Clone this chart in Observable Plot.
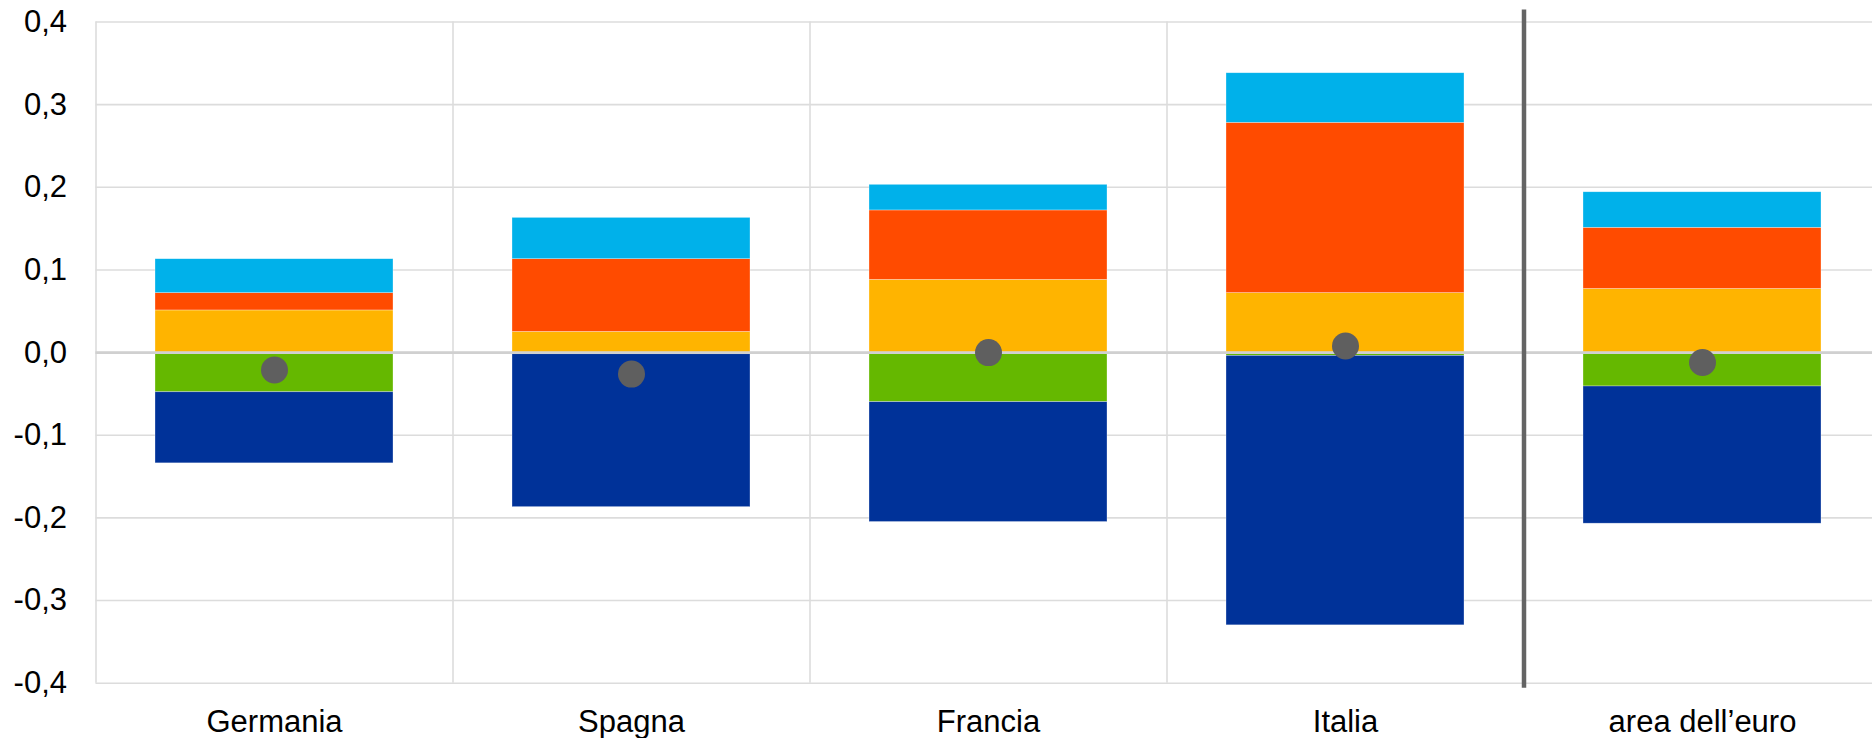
<!DOCTYPE html>
<html>
<head>
<meta charset="utf-8">
<script src="https://cdn.jsdelivr.net/npm/d3@7"></script>
<script src="https://cdn.jsdelivr.net/npm/@observablehq/plot@0.6"></script>
<style>
  html, body { margin: 0; padding: 0; background: #fff; overflow: hidden; }
</style>
</head>
<body>
<div id="chart"></div>
<script>
// ---- data ----
const categories = ["Germania", "Spagna", "Francia", "Italia", "area dell’euro"];
const seriesNames = ["verde", "blu", "giallo", "rosso", "azzurro"];
const seriesColors = ["#65b800", "#003299", "#ffb400", "#ff4b00", "#00b1ea"];
const verde   = [-0.048, -0.002, -0.060, -0.004, -0.041];
const blu     = [-0.086, -0.185, -0.145, -0.326, -0.166];
const giallo  = [ 0.051,  0.025,  0.088,  0.072,  0.077];
const rosso   = [ 0.021,  0.088,  0.084,  0.206,  0.074];
const azzurro = [ 0.041,  0.050,  0.031,  0.060,  0.043];
const totale  = [-0.021, -0.026,  0.000,  0.008, -0.012];
const yTicks  = [-0.4, -0.3, -0.2, -0.1, 0.0, 0.1, 0.2, 0.3, 0.4];

const seriesValues = [verde, blu, giallo, rosso, azzurro];
const rows = [];
seriesNames.forEach((s, si) => {
  categories.forEach((c, ci) => rows.push({cat: c, series: s, value: seriesValues[si][ci]}));
});
const dots = categories.map((c, i) => ({cat: c, value: totale[i]}));

// ---- layout ----
const width = 1872, height = 738;
const marginLeft = 95.5, marginRight = -8.5, marginTop = 21.5, marginBottom = 55.3;
const step = (width - marginLeft - marginRight) / categories.length;
const fmt = d => d.toFixed(1).replace(".", ",");

const chart = Plot.plot({
  width, height, marginLeft, marginRight, marginTop, marginBottom,
  style: {fontFamily: "'Liberation Sans', Arial, sans-serif", fontSize: "31px", color: "#000", background: "#fff"},
  x: {type: "band", domain: categories, paddingInner: 0.333, paddingOuter: 0.1665, align: 0.5, label: null},
  y: {domain: [-0.4, 0.4], label: null},
  color: {domain: seriesNames, range: seriesColors},
  marks: [
    Plot.ruleY(yTicks, {stroke: "#dcdcdc", strokeWidth: 1.6}),
    Plot.ruleX(categories.slice(0, 4), {dx: -step / 2, stroke: "#dcdcdc", strokeWidth: 1.6}),
    Plot.barY(rows, {x: "cat", y: "value", fill: "series", stroke: "#ffffff", strokeWidth: 0.6, strokeOpacity: 0.5}),
    Plot.ruleY([0], {stroke: "#d0d0d0", strokeWidth: 2.6}),
    Plot.ruleX([categories[4]], {dx: -step / 2, stroke: "#646464", strokeWidth: 4.5, insetTop: -12, insetBottom: -5}),
    Plot.dot(dots, {x: "cat", y: "value", r: 13.5, fill: "#5f5f5f"}),
    Plot.axisY({ticks: yTicks, tickFormat: fmt, tickSize: 0, tickPadding: 29, fontSize: 31}),
    Plot.axisX({tickSize: 0, tickPadding: 27, fontSize: 31})
  ]
});
document.getElementById("chart").appendChild(chart);
</script>
</body>
</html>
